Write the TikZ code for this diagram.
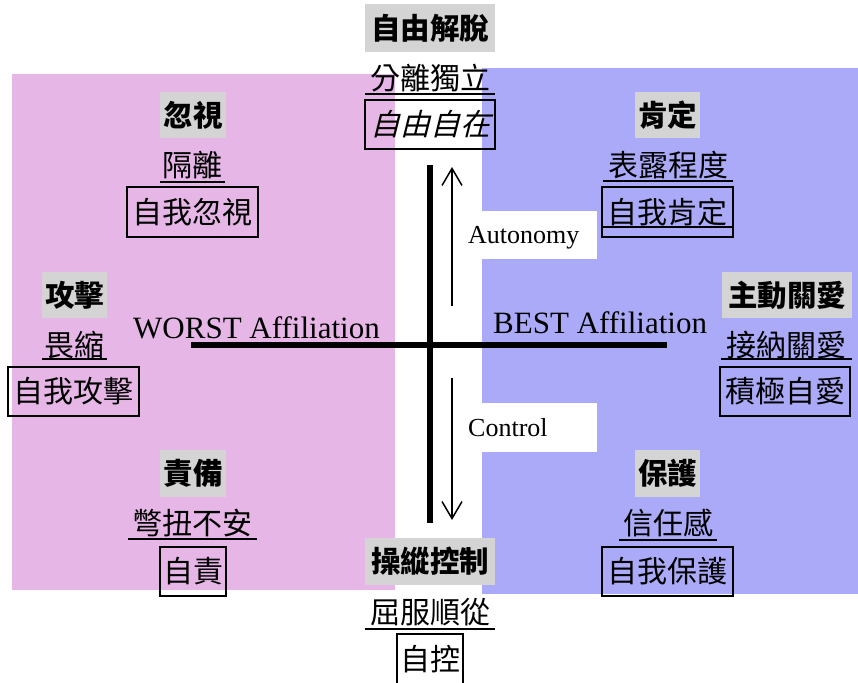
\documentclass[tikz,border=0pt]{standalone}
\usepackage{fontspec}
\setmainfont{Liberation Serif}
\newfontfamily\cjk{Noto Sans CJK TC}
\newfontfamily\cjkit[FakeSlant=0.25]{Noto Sans CJK TC}
\usetikzlibrary{arrows.meta}
\definecolor{pinkbg}{RGB}{230,182,230}
\definecolor{bluebg}{RGB}{170,170,248}
\definecolor{graybg}{RGB}{212,212,212}
\tikzset{
  titlebox/.style={fill=graybg, inner sep=0pt, font=\cjk\bfseries\fontsize{29.5}{31}\selectfont},
  ulabel/.style={inner sep=0pt, font=\cjk\fontsize{30}{32}\selectfont},
  framebox/.style={draw, line width=2pt, inner sep=0pt, font=\cjk\fontsize{30}{32}\selectfont},
  uline/.style={line width=2pt},
  axis/.style={line width=5.5pt},
  dirarrow/.style={line width=1.5pt, -{Straight Barb[length=17pt,width=20pt,line width=1.5pt]}},
  axislabel/.style={inner sep=0pt, anchor=base west},
}
\begin{document}
\begin{tikzpicture}[x=1pt,y=-1pt]
\useasboundingbox (0,0) rectangle (858,682);
\begin{scope}
\clip (0,0) rectangle (858,682);
% backgrounds
\fill[pinkbg] (12,74) rectangle (395,590);
\fill[bluebg] (482,68) rectangle (858,594);
\fill[white] (440,211) rectangle (597,259);
\fill[white] (440,403) rectangle (597,452);

% axes
\coordinate (vtop) at (430,165);
\coordinate (vbot) at (430,523);
\coordinate (hleft) at (191,345);
\coordinate (hright) at (667,345);
\draw[axis] (hleft) -- (hright);
\draw[axis] (vtop) -- (vbot);

% direction arrows
\coordinate (aus) at (452,306);
\coordinate (aue) at (452,167);
\coordinate (ads) at (452,378);
\coordinate (ade) at (452,520);
\draw[dirarrow] (aus) -- (aue);
\draw[dirarrow] (ads) -- (ade);

% axis labels
\node[axislabel, font=\fontsize{26}{28}\selectfont] (auto) at (468,243) {Autonomy};
\node[axislabel, font=\fontsize{26}{28}\selectfont] (ctrl) at (468,436) {Control};
\node[axislabel, font=\fontsize{31}{33}\selectfont] (worst) at (133,338) {WORST Affiliation};
\node[axislabel, font=\fontsize{31}{33}\selectfont] (best) at (493,333) {BEST Affiliation};

% top centre
\node[titlebox, minimum width=130pt, minimum height=48pt] (t1) at (430,28) {自由解脫};
\node[ulabel, minimum width=130pt, minimum height=32pt] (t2) at (430,78) {分離獨立};
\draw[uline] (t2.south west) -- (t2.south east);
\node[framebox, minimum width=130pt, minimum height=49pt, font=\cjkit\fontsize{30}{32}\selectfont] (t3) at (430,124.5) {自由自在};

% left top
\node[titlebox, minimum width=66pt, minimum height=46pt] (lt1) at (193,115) {忽視};
\node[ulabel, minimum width=65pt, minimum height=34pt] (lt2) at (192.5,165) {隔離};
\draw[uline] (lt2.south west) -- (lt2.south east);
\node[framebox, minimum width=131pt, minimum height=50pt] (lt3) at (192.5,212) {自我忽視};

% left middle
\node[titlebox, minimum width=65pt, minimum height=46pt] (lm1) at (74.5,295) {攻擊};
\node[ulabel, minimum width=65pt, minimum height=28pt] (lm2) at (74.5,345) {畏縮};
\draw[uline] (lm2.south west) -- (lm2.south east);
\node[framebox, minimum width=131pt, minimum height=49pt] (lm3) at (73.5,391.5) {自我攻擊};

% left bottom
\node[titlebox, minimum width=66pt, minimum height=47pt] (lb1) at (193,473.5) {責備};
\node[ulabel, minimum width=129pt, minimum height=32pt] (lb2) at (192.5,523) {彆扭不安};
\draw[uline] (lb2.south west) -- (lb2.south east);
\node[framebox, minimum width=66pt, minimum height=49pt] (lb3) at (193,571.5) {自責};

% bottom centre
\node[titlebox, minimum width=130pt, minimum height=47pt] (b1) at (430,561.5) {操縱控制};
\node[ulabel, minimum width=130pt, minimum height=34pt] (b2) at (430,612) {屈服順從};
\draw[uline] (b2.south west) -- (b2.south east);
\node[framebox, minimum width=66pt, minimum height=50pt] (b3) at (430,659) {自控};

% right top
\node[titlebox, minimum width=65pt, minimum height=46pt] (rt1) at (667.5,115) {肯定};
\node[ulabel, minimum width=130pt, minimum height=32pt] (rt2) at (668,165) {表露程度};
\draw[uline] (rt2.south west) -- (rt2.south east);
\node[framebox, minimum width=131pt, minimum height=50pt] (rt3) at (667.5,212) {自我肯定};
\draw[uline] ([yshift=11pt]rt3.south west) -- ([yshift=11pt]rt3.south east);

% right middle
\node[titlebox, minimum width=130pt, minimum height=46pt] (rm1) at (787,295) {主動關愛};
\node[ulabel, minimum width=131pt, minimum height=28pt] (rm2) at (786.5,345) {接納關愛};
\draw[uline] (rm2.south west) -- (rm2.south east);
\node[framebox, minimum width=130pt, minimum height=49pt] (rm3) at (785,391.5) {積極自愛};

% right bottom
\node[titlebox, minimum width=65pt, minimum height=47pt] (rb1) at (667.5,473.5) {保護};
\node[ulabel, minimum width=98pt, minimum height=34pt] (rb2) at (668,523) {信任感};
\draw[uline] (rb2.south west) -- (rb2.south east);
\node[framebox, minimum width=131pt, minimum height=49pt] (rb3) at (667.5,571.5) {自我保護};
\end{scope}
\end{tikzpicture}
\end{document}
